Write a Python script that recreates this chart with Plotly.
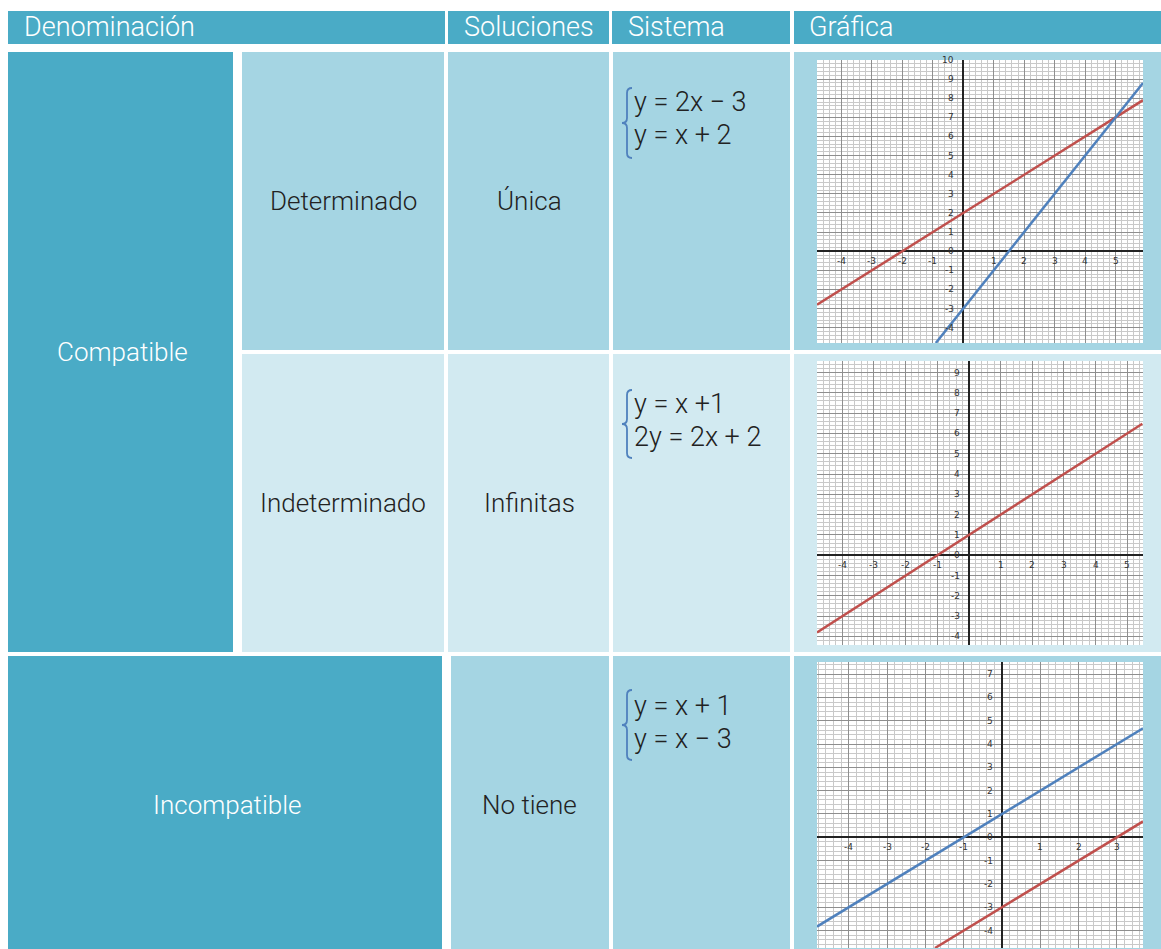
import plotly.graph_objects as go

W, H = 1161, 949

DARK = "#4aabc6"
MID = "#a5d5e3"
LIGHT = "#d2eaf1"
RED = "#c0504d"
BLUE = "#4f81bd"
FONT = "Liberation Sans Narrow, Arial Narrow, Roboto, sans-serif"

headers = ["Denominación", "Soluciones", "Sistema", "Gráfica"]
tipos = ["Compatible", "Incompatible"]
subtipos = ["Determinado", "Indeterminado"]
soluciones = ["Única", "Infinitas", "No tiene"]
sistemas = [
    ["y = 2x − 3", "y = x + 2"],
    ["y = x +1", "2y = 2x + 2"],
    ["y = x + 1", "y = x − 3"],
]

# graph 1: y = 2x - 3 (blue), y = x + 2 (red)
g1_blue_x = [-0.9, 5.9]
g1_blue_y = [-4.8, 8.8]
g1_red_x = [-4.8, 5.9]
g1_red_y = [-2.8, 7.9]
g1_xticks = [-4, -3, -2, -1, 0, 1, 2, 3, 4, 5]
g1_yticks = [-4, -3, -2, -1, 0, 1, 2, 3, 4, 5, 6, 7, 8, 9, 10]

# graph 2: y = x + 1 (red, both equations coincide)
g2_red_x = [-4.8, 5.48]
g2_red_y = [-3.8, 6.48]
g2_xticks = [-4, -3, -2, -1, 0, 1, 2, 3, 4, 5]
g2_yticks = [-4, -3, -2, -1, 0, 1, 2, 3, 4, 5, 6, 7, 8, 9]

# graph 3: y = x + 1 (blue), y = x - 3 (red)
g3_blue_x = [-4.83, 3.68]
g3_blue_y = [-3.83, 4.68]
g3_red_x = [-1.75, 3.68]
g3_red_y = [-4.75, 0.68]
g3_xticks = [-5, -4, -3, -2, -1, 0, 1, 2, 3]
g3_yticks = [-4, -3, -2, -1, 0, 1, 2, 3, 4, 5, 6, 7]


def px(x):
    return x / W


def py(y):
    return 1 - y / H


def cell(x0, y0, x1, y1, color):
    return dict(type="rect", xref="paper", yref="paper", x0=px(x0), x1=px(x1),
                y0=py(y1), y1=py(y0), fillcolor=color, line=dict(width=0), layer="below")


def label(text, x, y, color="#222222", size=26, anchor="center"):
    return dict(text=text, xref="paper", yref="paper", x=px(x), y=py(y), xanchor=anchor,
                yanchor="middle", showarrow=False,
                font=dict(family=FONT, size=size, color=color, weight=300))


def brace(x, y0, y1):
    # curly brace as an SVG path in paper coordinates
    ym = (y0 + y1) / 2
    p = (f"M {px(x + 6)},{py(y0)} Q {px(x + 1)},{py(y0)} {px(x + 1)},{py(y0 + 5)} "
         f"L {px(x + 1)},{py(ym - 5)} Q {px(x + 1)},{py(ym)} {px(x - 4)},{py(ym)} "
         f"Q {px(x + 1)},{py(ym)} {px(x + 1)},{py(ym + 5)} "
         f"L {px(x + 1)},{py(y1 - 5)} Q {px(x + 1)},{py(y1)} {px(x + 6)},{py(y1)}")
    return dict(type="path", xref="paper", yref="paper", path=p,
                line=dict(color=BLUE, width=1.8))


shapes = [
    # header
    cell(8, 11, 445, 44, DARK), cell(448, 11, 609, 44, DARK),
    cell(612, 11, 790, 44, DARK), cell(794, 11, 1161, 44, DARK),
    # row 1
    cell(8, 52, 233, 652, DARK),
    cell(242, 52, 444, 350, MID), cell(448, 52, 609, 350, MID),
    cell(613, 52, 790, 350, MID), cell(794, 52, 1161, 350, MID),
    # row 2
    cell(242, 354, 444, 652, LIGHT), cell(448, 354, 609, 652, LIGHT),
    cell(613, 354, 790, 652, LIGHT), cell(794, 354, 1161, 652, LIGHT),
    # row 3
    cell(8, 656, 442, 949, DARK), cell(451, 656, 609, 949, MID),
    cell(613, 656, 790, 949, MID), cell(794, 656, 1161, 949, MID),
    brace(626, 88, 158), brace(626, 390, 458), brace(626, 690, 760),
]

annotations = [
    label(headers[0], 22, 27, "white", size=27, anchor="left"),
    label(headers[1], 529, 27, "white", size=27),
    label(headers[2], 626, 27, "white", size=27, anchor="left"),
    label(headers[3], 807, 27, "white", size=27, anchor="left"),
    label(tipos[0], 122, 352, "white"),
    label(tipos[1], 227, 805, "white"),
    label(subtipos[0], 343, 201),
    label(subtipos[1], 343, 503),
    label(soluciones[0], 529, 201),
    label(soluciones[1], 529, 503),
    label(soluciones[2], 529, 805),
]
for (l1, l2), y in zip(sistemas, [102, 404, 706]):
    annotations.append(label(l1, 632, y, size=27, anchor="left"))
    annotations.append(label(l2, 632, y + 33, size=27, anchor="left"))

graphs = [
    dict(box=(817, 60, 1143, 343), xr=[-4.8, 5.9], yr=[-4.8, 10],
         xt=g1_xticks, yt=g1_yticks,
         lines=[(g1_red_x, g1_red_y, RED), (g1_blue_x, g1_blue_y, BLUE)]),
    dict(box=(817, 361, 1143, 645), xr=[-4.8, 5.5], yr=[-4.42, 9.57],
         xt=g2_xticks, yt=g2_yticks,
         lines=[(g2_red_x, g2_red_y, RED)]),
    dict(box=(817, 662, 1143, 948), xr=[-4.83, 3.68], yr=[-4.75, 7.52],
         xt=g3_xticks, yt=g3_yticks,
         lines=[(g3_blue_x, g3_blue_y, BLUE), (g3_red_x, g3_red_y, RED)]),
]

fig = go.Figure()
layout_axes = {}
for i, g in enumerate(graphs, start=1):
    sx = "" if i == 1 else str(i)
    x0, y0, x1, y1 = g["box"]
    axis_common = dict(
        showticklabels=False, ticks="", showline=False,
        dtick=1, tick0=0, showgrid=True, gridcolor="#8e8e8e", gridwidth=1,
        zeroline=True, zerolinecolor="#222222", zerolinewidth=1.5,
        minor=dict(dtick=0.2, showgrid=True, gridcolor="#c9c9c9", gridwidth=1),
        fixedrange=True,
    )
    layout_axes["xaxis" + sx] = dict(axis_common, domain=[px(x0), px(x1)], range=g["xr"],
                                     anchor="y" + sx)
    layout_axes["yaxis" + sx] = dict(axis_common, domain=[py(y1), py(y0)], range=g["yr"],
                                     anchor="x" + sx)
    shapes.append(dict(type="rect", xref="paper", yref="paper", x0=px(x0), x1=px(x1),
                       y0=py(y1), y1=py(y0), fillcolor="white", line=dict(width=0),
                       layer="below"))
    for lx, ly, color in g["lines"]:
        fig.add_trace(go.Scatter(x=lx, y=ly, mode="lines", line=dict(color=color, width=2.5),
                                 xaxis="x" + sx, yaxis="y" + sx, showlegend=False,
                                 hoverinfo="skip", cliponaxis=True))
    # tick labels sit along the zero axes, like a spreadsheet chart
    for t in g["xt"]:
        if t == 0:
            continue
        annotations.append(dict(text=str(t), x=t, y=0, xref="x" + sx, yref="y" + sx,
                                yshift=-10, showarrow=False,
                                font=dict(family="DejaVu Sans", size=9, color="#333333")))
    for t in g["yt"]:
        annotations.append(dict(text=str(t), x=0, y=t, xref="x" + sx, yref="y" + sx,
                                xshift=-7, xanchor="right", showarrow=False,
                                font=dict(family="DejaVu Sans", size=9, color="#333333")))

fig.update_layout(
    width=W, height=H, margin=dict(l=0, r=0, t=0, b=0),
    paper_bgcolor="white", plot_bgcolor="rgba(0,0,0,0)",
    shapes=shapes, annotations=annotations, showlegend=False,
    **layout_axes,
)
fig.write_html("out.html", config={"displayModeBar": False},
               post_script="document.body.style.margin='0';document.body.style.overflow='hidden';")
